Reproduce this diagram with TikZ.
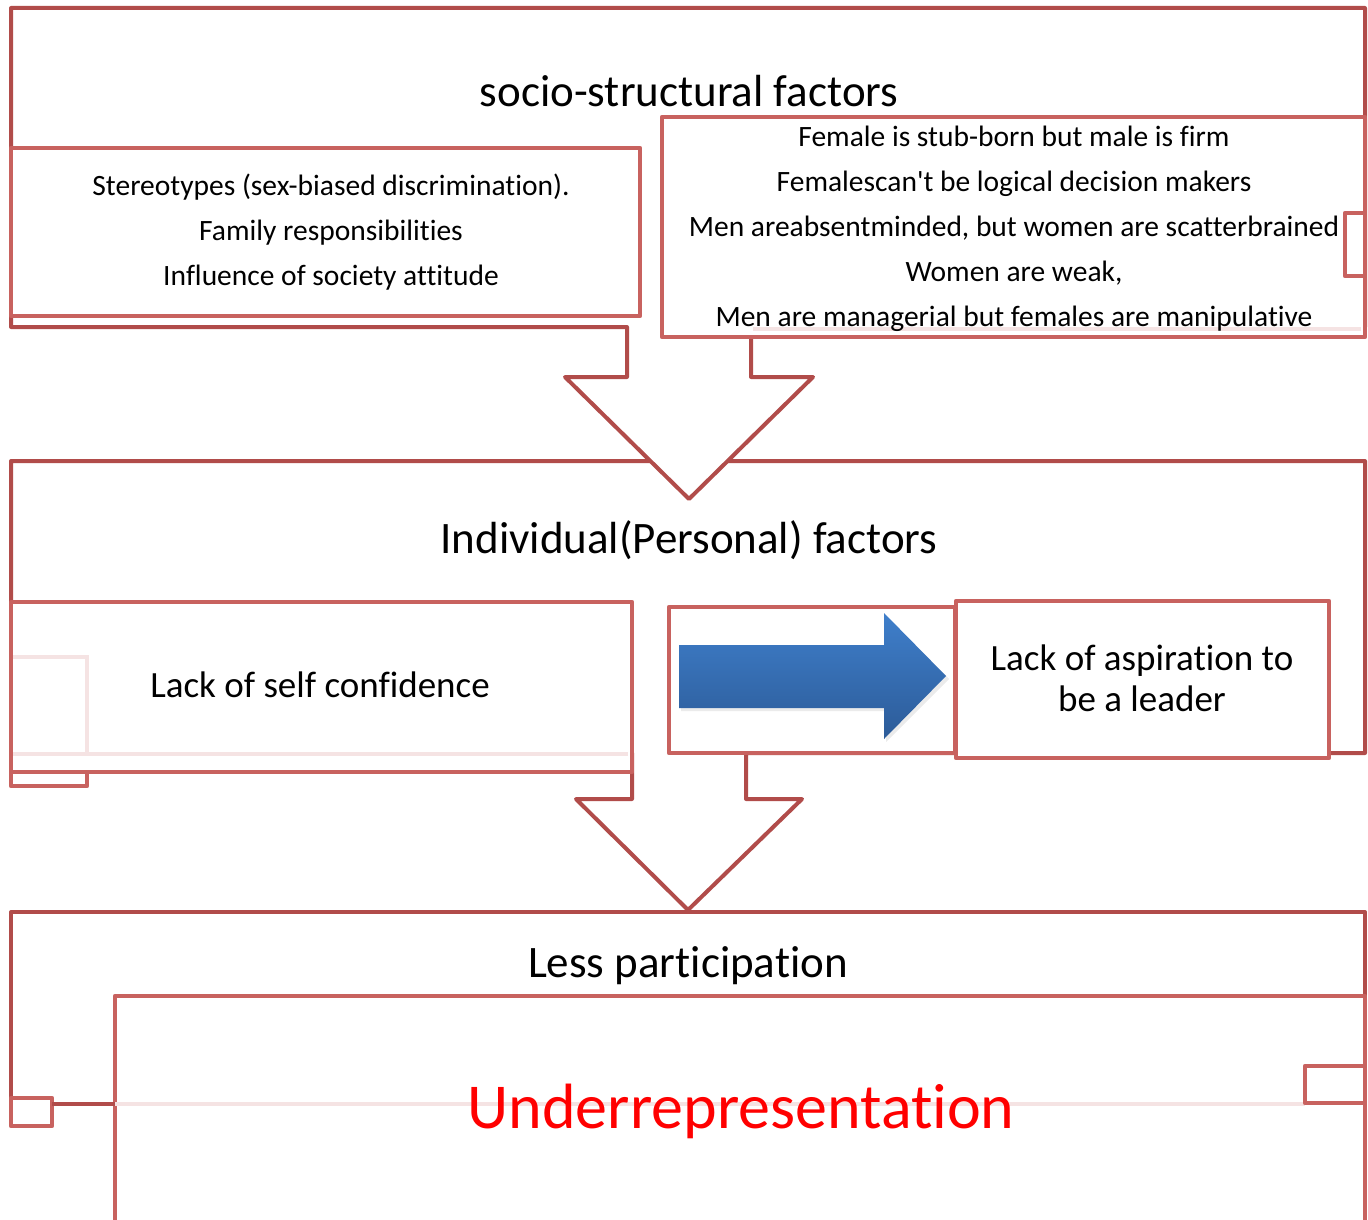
\documentclass[tikz,border=0pt]{standalone}
\usepackage{fontspec}
\setmainfont{Carlito}[Ligatures=NoCommon]
\usepackage{tikz}
\definecolor{outerred}{HTML}{B14C4A}
\definecolor{boxred}{HTML}{C8625F}
\definecolor{ghostred}{HTML}{F5E3E3}
\definecolor{arrowtop}{HTML}{3F7FCB}
\definecolor{arrowbot}{HTML}{2C5B98}

\begin{document}
\begin{tikzpicture}[x=1pt,y=-1pt,
	outer/.style={draw=outerred, line width=4pt, fill=white, line join=round},
	inbox/.style={draw=boxred, line width=4.5pt, fill=white, line join=round},
	ghost/.style={draw=ghostred, line width=4pt},
	smalltxt/.style={font=\fontsize{29.5}{35}\selectfont, anchor=base, inner sep=0pt},
	midtxt/.style={font=\fontsize{37}{41}\selectfont, anchor=base, inner sep=0pt},
	bigtxt/.style={font=\fontsize{45}{54}\selectfont, anchor=base, inner sep=0pt}]
	\useasboundingbox (0,0) rectangle (1368,1220);

	% bottom level
	\draw[outer] (11,1098) -- (11,912) -- (1365,912) -- (1365,996);
	\draw[inbox] (1365,1232) -- (1365,996) -- (115,996) -- (115,1232);
	\draw[ghost] (115,1104) -- (1305,1104);
	\draw[inbox] (1305,1066) rectangle (1365,1103);
	\draw[inbox] (11,1098) rectangle (52,1126);
	\coordinate (sqL) at (52,1104);
	\coordinate (underL) at (115,1104);
	\draw[outerred, line width=4.5pt] (sqL) -- (underL);
	\node[bigtxt] (lesspart) at (688,977) {Less participation};
	\node[font=\fontsize{64}{70}\selectfont, text=red, anchor=base, inner sep=0pt] (under) at (741,1128) {Underrepresentation};

	% middle level
	\draw[outer] (11,753) -- (11,461) -- (1365,461) -- (1365,753) -- (746,753) -- (746,799) -- (802,799) -- (688,910) -- (576,799) -- (632,799) -- (632,753) -- cycle;
	\draw[inbox] (11,657) rectangle (87,786);
	\draw[inbox] (11,602) rectangle (632,772);
	\draw[ghost] (13,657) -- (87,657) -- (87,752);
	\draw[ghost] (13,754) -- (628,754);
	\draw[inbox] (669,607) rectangle (955,753);
	\fill[black, opacity=0.08] (681,648) -- (886,648) -- (886,616) -- (949,679) -- (886,742) -- (886,711) -- (681,711) -- cycle;
	\shade[top color=arrowtop, bottom color=arrowbot] (679,645) -- (884,645) -- (884,613) -- (946,676) -- (884,739) -- (884,708) -- (679,708) -- cycle;
	\draw[inbox] (956,601) rectangle (1329,758);
	\node[bigtxt] (indiv) at (689,553) {Individual(Personal) factors};
	\node[midtxt] (selfconf) at (320,697) {Lack of self confidence};
	\foreach \t [count=\i] in {Lack of aspiration to, be a leader}
		\node[midtxt] (aspire\i) at (1142, 629+41*\i) {\t};

	% top level
	\draw[outer] (11,327) -- (11,8) -- (1365,8) -- (1365,327) -- (751,327) -- (751,377) -- (813,377) -- (689,499) -- (565,377) -- (627,377) -- (627,327) -- cycle;
	\draw[inbox] (11,148) rectangle (640,316);
	\draw[inbox] (662,117) rectangle (1365,337);
	\draw[ghost] (753,329) -- (1361,329);
	\draw[inbox] (1345,213) rectangle (1365,276);
	\node[bigtxt] (socio) at (689,107) {socio-structural factors};
	\foreach \t [count=\i] in {Stereotypes (sex-biased discrimination).,
		Family responsibilities, Influence of society attitude}
		\node[smalltxt] (social\i) at (331, 150+45*\i) {\t};
	\foreach \t [count=\i] in {Female is stub-born but male is firm,
		Femalescan\textquotesingle t be logical decision makers,
		{Men areabsentminded, but women are scatterbrained},
		{Women are weak,},
		Men are managerial but females are manipulative}
		\node[smalltxt] (myth\i) at (1014, 102+44.8*\i) {\t};
\end{tikzpicture}
\end{document}
